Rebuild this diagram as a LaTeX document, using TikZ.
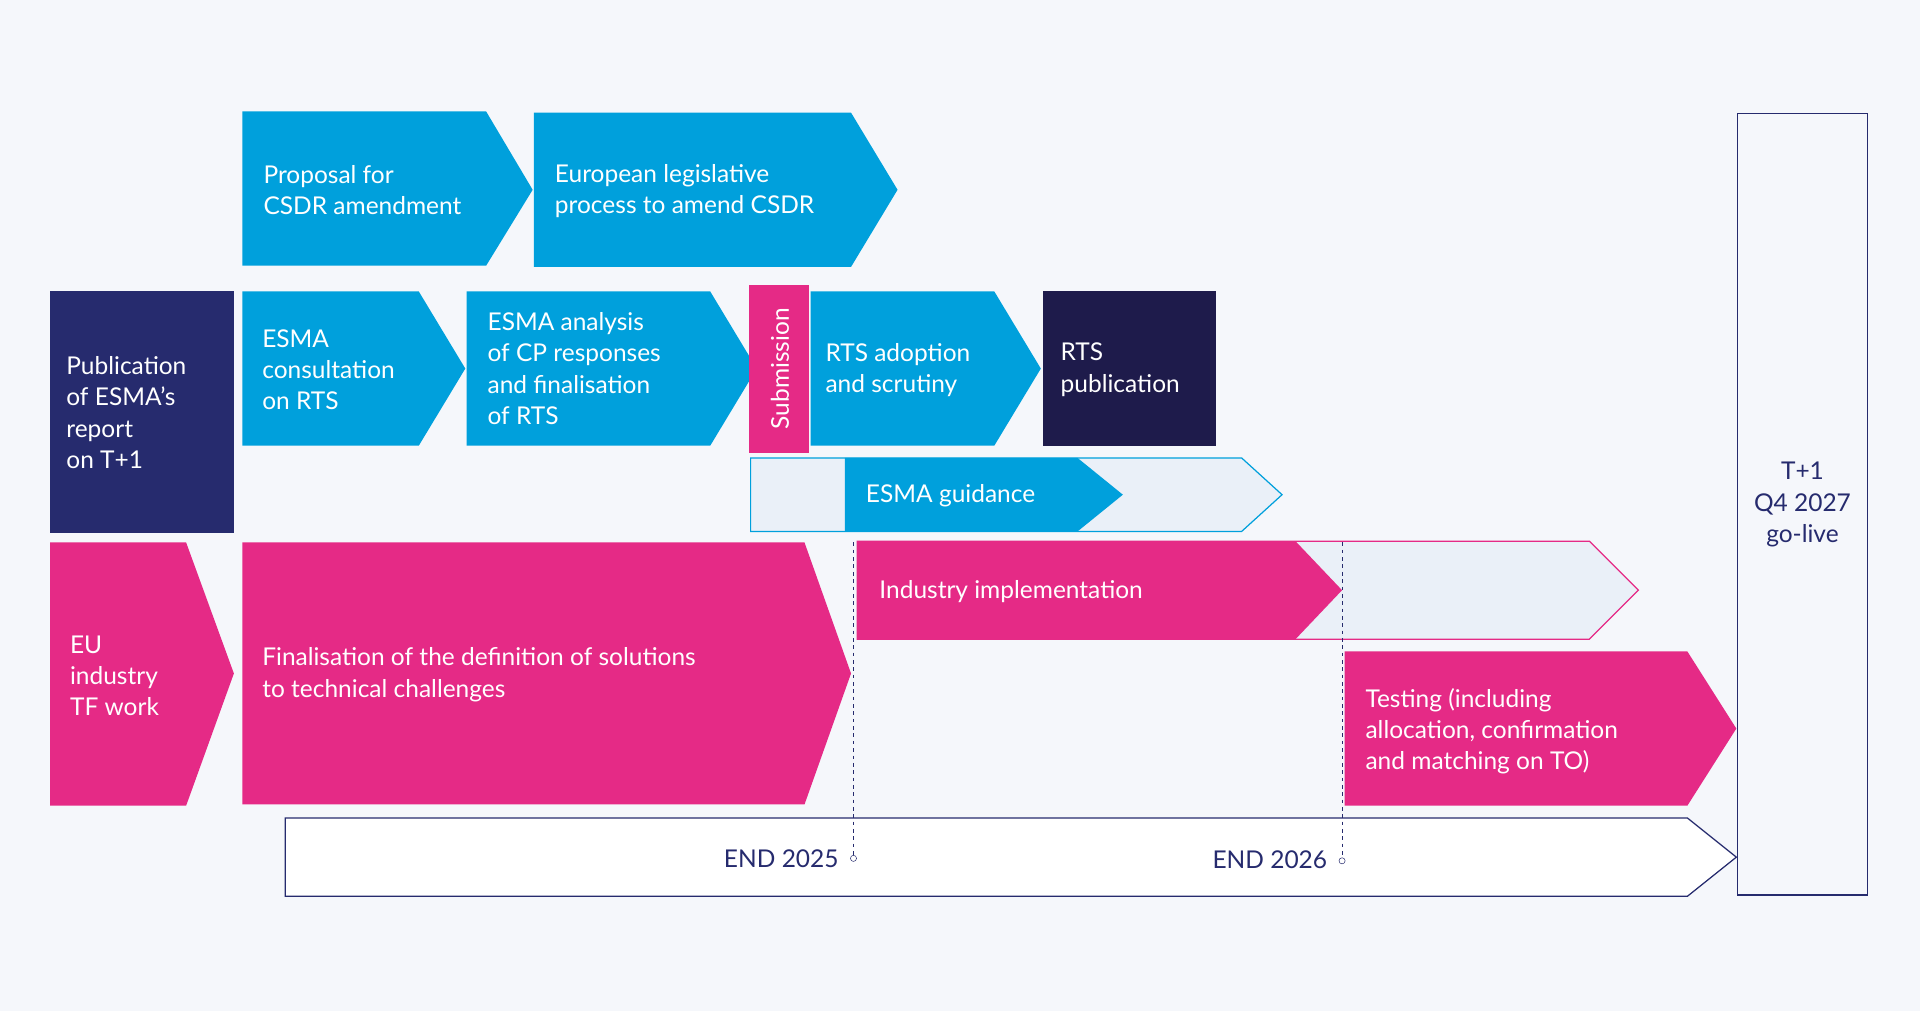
\documentclass[tikz,border=0pt]{standalone}
\usepackage{fontspec}
\setmainfont{Lato}
\definecolor{bg}{HTML}{F5F7FB}
\definecolor{eblue}{HTML}{00A0DC}
\definecolor{epink}{HTML}{E52A86}
\definecolor{enavy}{HTML}{262B6E}
\definecolor{edark}{HTML}{1E1B4B}
\definecolor{light}{HTML}{EAF0F8}
\begin{document}
\begin{tikzpicture}[x=1pt,y=-1pt,
  txt/.style={anchor=west,align=left,text=white,font=\fontsize{20}{25.5}\selectfont,inner sep=0pt},
  ntxt/.style={txt,text=enavy}]
\useasboundingbox (0,0) rectangle (1568,826);
\fill[bg] (0,0) rectangle (1568,826);
% row 1
\fill[eblue] (198,91)--(397,91)--(435,155)--(397,217)--(198,217)--cycle;
\node[txt] (p1) at (215,155) {Proposal for\\CSDR amendment};
\fill[eblue] (436,92)--(695,92)--(733,155)--(695,218)--(436,218)--cycle;
\node[txt] (p2) at (453,156) {European legislative\\process to amend CSDR};
% row 2
\fill[enavy] (41,238) rectangle (191,435);
\node[txt] (pub) at (54,337) {Publication\\of ESMA’s\\report\\on T+1};
\fill[eblue] (198,238)--(342,238)--(380,301)--(342,364)--(198,364)--cycle;
\node[txt] (cons) at (214,302) {ESMA\\consultation\\on RTS};
\fill[eblue] (381,238)--(580,238)--(618,301)--(580,364)--(381,364)--cycle;
\node[txt] (ana) at (398,301) {ESMA analysis\\of CP responses\\and finalisation\\of RTS};
\fill[epink] (612,233) rectangle (661,370);
\node[txt,rotate=90,anchor=center] (sub) at (637,301) {Submission};
\fill[eblue] (662,238)--(812,238)--(850,301)--(812,364)--(662,364)--cycle;
\node[txt] (ado) at (674,302) {RTS adoption\\and scrutiny};
\fill[edark] (852,238) rectangle (993,364);
\node[txt] (rpub) at (866,302) {RTS\\publication};
% guidance
\filldraw[fill=light,draw=eblue,line width=1pt] (613,374)--(1014,374)--(1047,404)--(1014,434)--(613,434)--cycle;
\fill[eblue] (690,374)--(880,374)--(917,404)--(880,434)--(690,434)--cycle;
\node[txt] (gui) at (707,405) {ESMA guidance};
% row 3
\fill[epink] (41,443)--(152,443)--(191,550)--(152,658)--(41,658)--cycle;
\node[txt] (eu) at (57,552) {EU\\industry\\TF work};
\fill[epink] (198,443)--(657,443)--(695,550)--(657,657)--(198,657)--cycle;
\node[txt] (fin) at (214,551) {Finalisation of the definition of solutions\\to technical challenges};
\filldraw[fill=light,draw=epink,line width=1pt] (700,442)--(1298,442)--(1338,482)--(1298,522)--(700,522)--cycle;
\fill[epink] (700,442)--(1058,442)--(1096,482)--(1058,522)--(700,522)--cycle;
\node[txt] (ind) at (718,483) {Industry implementation};
\fill[epink] (1098,532)--(1378,532)--(1418,595)--(1378,658)--(1098,658)--cycle;
\node[txt] (test) at (1115,597) {Testing (including\\allocation, confirmation\\and matching on TO)};
% timeline
\filldraw[fill=white,draw=enavy,line width=1pt] (233,668)--(1378,668)--(1418,700)--(1378,732)--(233,732)--cycle;
\node[ntxt,anchor=east] (e25) at (685,701) {END 2025};
\node[ntxt,anchor=east] (e26) at (1084,702) {END 2026};
\node[circle,draw=enavy,fill=white,inner sep=0pt,minimum size=5pt] (c25) at (697,701) {};
\node[circle,draw=enavy,fill=white,inner sep=0pt,minimum size=5pt] (c26) at (1096,703) {};
\coordinate (t25) at (697,443);
\coordinate (t26) at (1096,443);
\draw[enavy,dashed,line width=0.8pt] (t25)--(c25);
\draw[enavy,dashed,line width=0.8pt] (t26)--(c26);
% go-live
\draw[enavy,line width=1pt] (1419,93) rectangle (1525,731);
\node[ntxt,anchor=center,align=center] (gl) at (1472,412) {T+1\\Q4 2027\\go-live};
\end{tikzpicture}
\end{document}
